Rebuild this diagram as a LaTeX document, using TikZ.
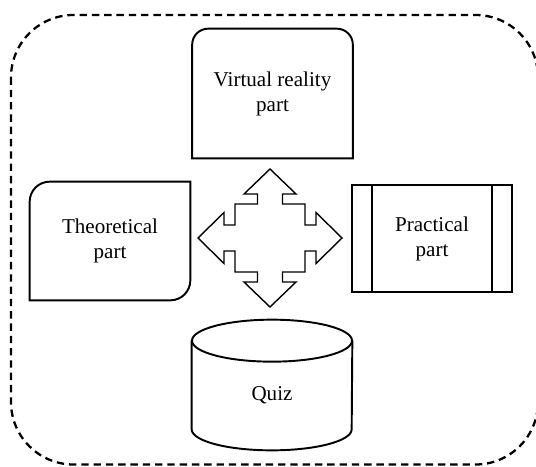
\documentclass[tikz,border=0pt]{standalone}
\usepackage{fontspec}
\setmainfont{Liberation Serif}
\usetikzlibrary{calc}
\tikzset{font=\fontsize{12}{14.2}\selectfont}
\tikzset{partbox/.style={minimum width=3.2cm, align=center, inner sep=0pt}}
\tikzset{partline/.style={line width=1.1pt}}
\tikzset{frameline/.style={line width=1.3pt, dash pattern=on 4.2pt off 2.8pt}}

\begin{document}
\begin{tikzpicture}[x=0.02cm,y=0.02cm]
\useasboundingbox (0,0) rectangle (536,-466);
% dashed frame round everything
\draw[frameline, rounded corners=1.25cm] (11,-15) rectangle (538,-464.5);
% the four parts
\node[partbox, minimum height=2.58cm] (vr) at (272.5,-93.5) {Virtual reality\\part};
\node[partbox, minimum height=2.36cm] (th) at (110,-241) {Theoretical\\part};
\node[partbox, minimum height=2.14cm] (pr) at (432,-238.5) {Practical\\part};
\node[partbox, minimum height=2.18cm] (quiz) at (272,-395.5) {Quiz};
\coordinate (hub) at (270,-238);
% outlines
\draw[partline] (vr.south west) -- ($(vr.north west)+(0,-16)$) arc[start angle=180,end angle=90,radius=16]
 -- ($(vr.north east)+(-16,0)$) arc[start angle=90,end angle=0,radius=16] -- (vr.south east) -- cycle;
\draw[partline] (th.north east) -- ($(th.north west)+(20,0)$) arc[start angle=90,end angle=180,radius=20]
 -- (th.south west) -- ($(th.south east)+(-20,0)$) arc[start angle=270,end angle=360,radius=20] -- cycle;
\draw[partline] (pr.south west) rectangle (pr.north east);
\draw[partline] ($(pr.north west)+(20,0)$) -- ($(pr.south west)+(20,0)$);
\draw[partline] ($(pr.north east)+(-20,0)$) -- ($(pr.south east)+(-20,0)$);
\draw[partline] (quiz.north) ellipse[x radius=80,y radius=21];
\draw[partline] (quiz.north west) -- ($(quiz.south west)+(0,21)$)
 arc[start angle=180,end angle=360,x radius=80,y radius=21] -- (quiz.north east);
% four-way arrow
\begin{scope}[shift={(hub)}]
\draw[line width=0.8pt, line join=miter] (0,69) -- (26,44) -- (12.5,44) -- (12.5,34) -- (35,34) -- (35,13)
 -- (46,13) -- (46,25.5) -- (72,0) -- (46,-25.5) -- (46,-13) -- (35,-13) -- (35,-34) -- (12.5,-34)
 -- (12.5,-44) -- (26,-44) -- (0,-69) -- (-26,-44) -- (-12.5,-44) -- (-12.5,-34) -- (-35,-34)
 -- (-35,-13) -- (-46,-13) -- (-46,-25.5) -- (-72,0) -- (-46,25.5) -- (-46,13) -- (-35,13)
 -- (-35,34) -- (-12.5,34) -- (-12.5,44) -- (-26,44) -- cycle;
\end{scope}
\end{tikzpicture}
\end{document}
